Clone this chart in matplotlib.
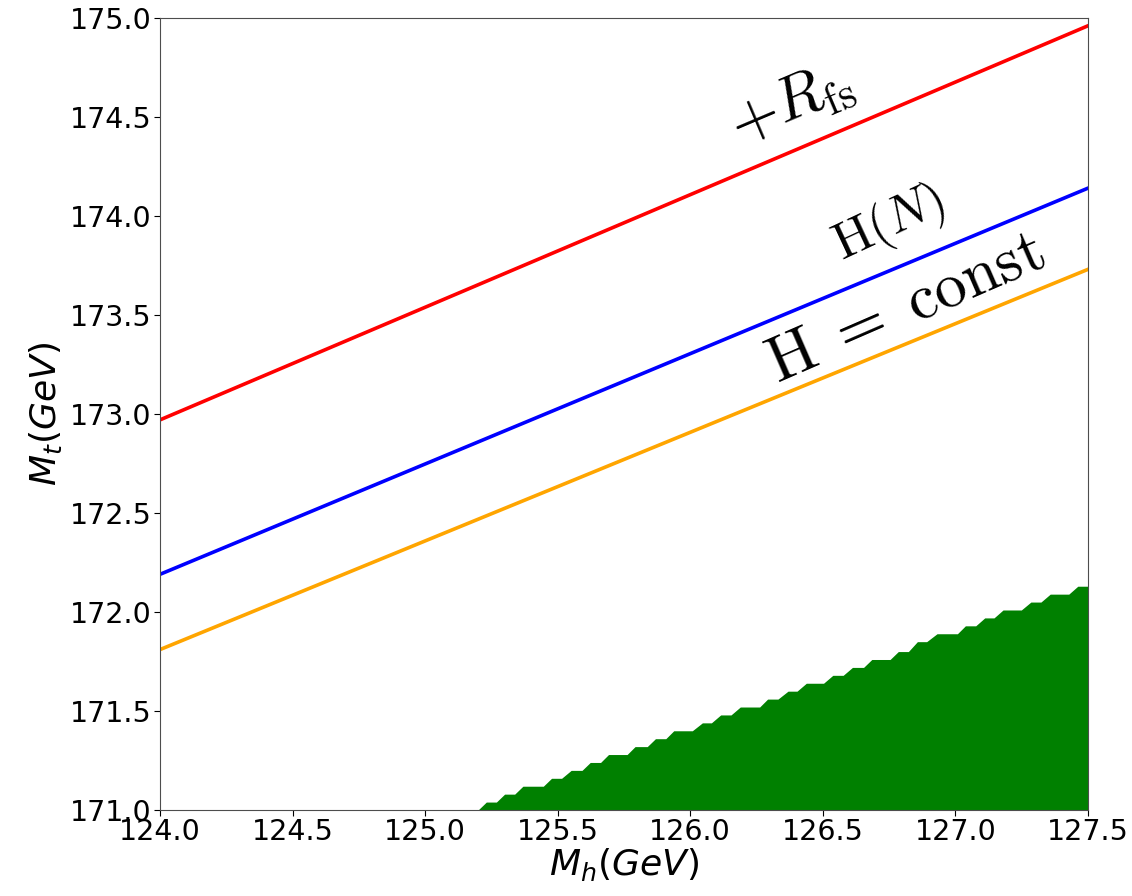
import numpy as np
import matplotlib
matplotlib.use("Agg")
import matplotlib.pyplot as plt

plt.rcParams['font.family'] = ['DejaVu Sans']
plt.rcParams['mathtext.fontset'] = 'dejavusans'

# line end points (M_h, M_t)
mh_ends = [124.0, 127.5]
mt_rfs = [172.97, 174.96]     # +R_fs
mt_hn = [172.19, 174.14]      # H(N)
mt_hconst = [171.81, 173.73]  # H = const

# stepped edge of the green region: rise start, rise end, level
step_x0 = [125.200, 125.269, 125.338, 125.446, 125.515, 125.592, 125.662,
           125.762, 125.838, 125.908, 126.008, 126.080, 126.154, 126.262,
           126.331, 126.403, 126.503, 126.577, 126.654, 126.754, 126.823,
           126.892, 127.008, 127.077, 127.146, 127.249, 127.323, 127.428]
step_x1 = [125.231, 125.300, 125.369, 125.477, 125.551, 125.623, 125.692,
           125.792, 125.869, 125.938, 126.046, 126.115, 126.189, 126.292,
           126.369, 126.438, 126.538, 126.612, 126.685, 126.785, 126.857,
           126.931, 127.038, 127.111, 127.180, 127.285, 127.358, 127.462]
step_y = [171.04, 171.08, 171.12, 171.16, 171.20, 171.24, 171.28,
          171.32, 171.36, 171.40, 171.44, 171.48, 171.52, 171.56,
          171.60, 171.64, 171.68, 171.72, 171.76, 171.80, 171.85,
          171.89, 171.93, 171.97, 172.01, 172.05, 172.09, 172.13]

fig = plt.figure(figsize=(11.32, 8.96), dpi=100)
ax = fig.add_axes([0.1413, 0.096, 0.8197, 0.884])

# build the staircase outline
ex, ey = [], []
prev = 171.0
for x0, x1, y in zip(step_x0, step_x1, step_y):
    ex += [x0, x1]
    ey += [prev, y]
    prev = y
ex.append(127.5)
ey.append(prev)
ax.fill_between(ex, 171.0, ey, color='green', linewidth=0)

ax.plot(mh_ends, mt_rfs, color='red', lw=2.6)
ax.plot(mh_ends, mt_hn, color='blue', lw=2.6)
ax.plot(mh_ends, mt_hconst, color='orange', lw=2.6)

ax.set_xlim(124.0, 127.5)
ax.set_ylim(171.0, 175.0)
ax.set_xticks([124.0, 124.5, 125.0, 125.5, 126.0, 126.5, 127.0, 127.5])
ax.set_yticks([171.0, 171.5, 172.0, 172.5, 173.0, 173.5, 174.0, 174.5, 175.0])
ax.tick_params(labelsize=20.5, pad=2, length=4)
for s in ax.spines.values():
    s.set_color('0.3')

ax.set_xlabel('$M_h(GeV)$', fontsize=26, labelpad=0)
ax.set_ylabel('$M_t(GeV)$', fontsize=26, labelpad=4)

# curve labels in computer modern
ax.text(126.38, 174.57, r'$+R_{\rm fs}$', fontsize=45, rotation=23,
        ha='center', va='center', math_fontfamily='cm')
ax.text(126.75, 173.96, r'$\mathrm{H}(N)$', fontsize=37, rotation=25,
        ha='center', va='center', math_fontfamily='cm')
ax.text(126.81, 173.54, r'$\mathrm{H}\;=\;\mathrm{const}$', fontsize=46,
        rotation=23.5, ha='center', va='center', math_fontfamily='cm')

fig.savefig('out.png', dpi=100)
